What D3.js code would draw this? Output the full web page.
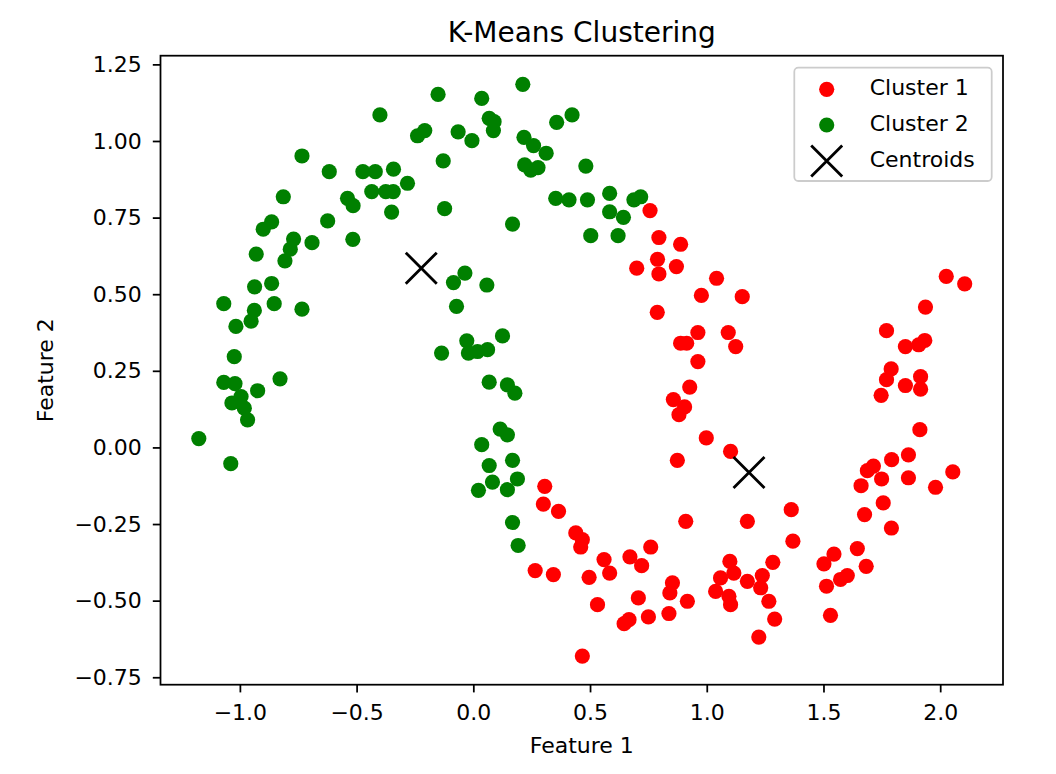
<!DOCTYPE html>
<html>
<head>
<meta charset="utf-8">
<script src="https://cdn.jsdelivr.net/npm/d3@7"></script>
<style>
  body { margin: 0; background: #fff; }
  text { font-family: "DejaVu Sans", sans-serif; fill: #000; }
</style>
</head>
<body>
<div id="chart"></div>
<script>
// Cluster 1 (red) points, [feature1, feature2]
const cluster1 = [
  [0.757, 0.773], [0.795, 0.685], [0.888, 0.663], [0.700, 0.585], [0.789, 0.614],
  [0.795, 0.566], [0.870, 0.590], [1.042, 0.552], [0.977, 0.496], [1.152, 0.492],
  [0.788, 0.441], [0.962, 0.375], [0.888, 0.340], [0.914, 0.340], [1.092, 0.375],
  [1.124, 0.329], [0.962, 0.280], [0.927, 0.197], [0.857, 0.156], [0.905, 0.132],
  [0.881, 0.107], [0.998, 0.031], [1.102, -0.013], [0.874, -0.042], [0.306, -0.127],
  [0.300, -0.185], [0.365, -0.209], [0.439, -0.279], [0.467, -0.301], [0.460, -0.325],
  [0.265, -0.402], [0.343, -0.415], [0.560, -0.366], [0.584, -0.410], [0.496, -0.424],
  [0.671, -0.357], [0.721, -0.386], [0.760, -0.325], [0.532, -0.513], [0.853, -0.442],
  [0.842, -0.475], [0.707, -0.491], [0.917, -0.502], [0.646, -0.575], [0.667, -0.562],
  [0.750, -0.553], [0.838, -0.542], [0.467, -0.681], [0.910, -0.241], [1.174, -0.241],
  [1.099, -0.372], [1.116, -0.410], [1.059, -0.426], [1.038, -0.470], [1.095, -0.486],
  [1.102, -0.513], [1.174, -0.437], [1.238, -0.418], [1.231, -0.458], [1.283, -0.375],
  [1.266, -0.502], [1.291, -0.560], [1.223, -0.619], [1.362, -0.203], [1.369, -0.306],
  [1.502, -0.380], [1.545, -0.348], [1.513, -0.453], [1.573, -0.431], [1.602, -0.418],
  [1.645, -0.330], [1.683, -0.388], [1.530, -0.548], [1.676, -0.219], [1.661, -0.125],
  [1.688, -0.076], [1.714, -0.061], [1.749, -0.103], [1.792, -0.040], [1.756, -0.181],
  [1.791, -0.263], [1.864, -0.024], [1.864, -0.099], [2.054, -0.080], [1.980, -0.130],
  [2.026, 0.558], [2.105, 0.534], [1.937, 0.458], [1.770, 0.381], [1.851, 0.329],
  [1.908, 0.335], [1.934, 0.349], [1.790, 0.256], [1.770, 0.221], [1.747, 0.170],
  [1.851, 0.202], [1.916, 0.231], [1.916, 0.190], [1.913, 0.058]
];

// Cluster 2 (green) points
const cluster2 = [
  [-0.151, 1.152], [-0.400, 1.085], [-0.239, 1.017], [-0.208, 1.034], [-0.129, 0.935],
  [-0.734, 0.951], [-0.617, 0.900], [-0.473, 0.900], [-0.420, 0.900], [-0.342, 0.908],
  [-0.282, 0.862], [-0.435, 0.835], [-0.375, 0.835], [-0.343, 0.835], [-0.350, 0.768],
  [-0.123, 0.779], [-0.814, 0.818], [-0.539, 0.813], [-0.515, 0.789], [-0.864, 0.736],
  [-0.900, 0.712], [-0.624, 0.739], [-0.770, 0.680], [-0.784, 0.647], [-0.807, 0.609],
  [-0.691, 0.668], [-0.516, 0.679], [-0.930, 0.631], [-0.937, 0.524], [-0.864, 0.535],
  [-1.069, 0.469], [-0.938, 0.447], [-0.952, 0.412], [-0.853, 0.469], [-0.734, 0.451],
  [-1.017, 0.395], [-1.024, 0.296], [-1.069, 0.212], [-1.021, 0.208], [-0.995, 0.166],
  [-1.034, 0.145], [-0.981, 0.128], [-0.967, 0.090], [-0.924, 0.185], [-0.828, 0.224],
  [-1.176, 0.029], [-1.039, -0.053], [-0.136, 0.308], [0.036, 1.139], [0.212, 1.185],
  [0.068, 1.074], [0.089, 1.063], [0.086, 1.034], [-0.065, 1.030], [-0.006, 1.001],
  [0.357, 1.061], [0.423, 1.085], [0.217, 1.012], [0.258, 0.985], [0.312, 0.960],
  [0.220, 0.922], [0.246, 0.905], [0.277, 0.913], [0.482, 0.918], [0.168, 0.729],
  [0.353, 0.813], [0.410, 0.808], [0.489, 0.808], [0.584, 0.829], [0.584, 0.769],
  [0.643, 0.751], [0.688, 0.808], [0.717, 0.818], [0.503, 0.691], [0.620, 0.691],
  [-0.036, 0.569], [-0.085, 0.538], [0.058, 0.530], [-0.072, 0.460], [-0.028, 0.348],
  [0.125, 0.364], [-0.021, 0.308], [0.018, 0.313], [0.061, 0.319], [0.068, 0.213],
  [0.146, 0.204], [0.178, 0.177], [0.115, 0.060], [0.146, 0.041], [0.036, 0.009],
  [0.168, -0.042], [0.068, -0.059], [0.189, -0.103], [0.082, -0.113], [0.146, -0.138],
  [0.022, -0.140], [0.168, -0.245], [0.192, -0.320]
];

// Centroids
const centroids = [[1.181, -0.082], [-0.223, 0.585]];

const xTicks = [-1.0, -0.5, 0.0, 0.5, 1.0, 1.5, 2.0];
const yTicks = [-0.75, -0.5, -0.25, 0.0, 0.25, 0.5, 0.75, 1.0, 1.25];
const legendLabels = ['Cluster 1', 'Cluster 2', 'Centroids'];

const width = 1056;
const height = 774;
const margin = { top: 55.7, right: 53, bottom: 89.3, left: 160.5 };
const innerW = width - margin.left - margin.right;
const innerH = height - margin.top - margin.bottom;

const fmt = (v, d) => d3.format(`.${d}f`)(v).replace('-', '\u2212');

const svg = d3.select('#chart')
  .append('svg')
  .attr('width', width)
  .attr('height', height);

const g = svg.append('g')
  .attr('transform', `translate(${margin.left}, ${margin.top})`);

// Domain with matplotlib-like 5% margins
const all = cluster1.concat(cluster2);
const xExt = d3.extent(all, d => d[0]);
const yExt = d3.extent(all, d => d[1]);
const xPad = (xExt[1] - xExt[0]) * 0.05;
const yPad = (yExt[1] - yExt[0]) * 0.05;

const x = d3.scaleLinear()
  .domain([xExt[0] - xPad, xExt[1] + xPad])
  .range([0, innerW]);

const y = d3.scaleLinear()
  .domain([yExt[0] - yPad, yExt[1] + yPad])
  .range([innerH, 0]);

const r = 7.6;

// Scatter points
g.selectAll('.c1')
  .data(cluster1)
  .enter().append('circle')
  .attr('class', 'c1')
  .attr('cx', d => x(d[0]))
  .attr('cy', d => y(d[1]))
  .attr('r', r)
  .attr('fill', 'red');

g.selectAll('.c2')
  .data(cluster2)
  .enter().append('circle')
  .attr('class', 'c2')
  .attr('cx', d => x(d[0]))
  .attr('cy', d => y(d[1]))
  .attr('r', r)
  .attr('fill', 'green');

// X marker path
const xs = 15.5;
const xMark = `M${-xs},${-xs}L${xs},${xs}M${-xs},${xs}L${xs},${-xs}`;

g.selectAll('.centroid')
  .data(centroids)
  .enter().append('path')
  .attr('class', 'centroid')
  .attr('transform', d => `translate(${x(d[0])}, ${y(d[1])})`)
  .attr('d', xMark)
  .attr('fill', 'none')
  .attr('stroke', '#000')
  .attr('stroke-width', 2.8);

// Axes
const xAxis = g.append('g')
  .attr('transform', `translate(0, ${innerH})`)
  .call(d3.axisBottom(x).tickValues(xTicks).tickFormat(d => fmt(d, 1)).tickSize(7.7).tickPadding(7.7));

const yAxis = g.append('g')
  .call(d3.axisLeft(y).tickValues(yTicks).tickFormat(d => fmt(d, 2)).tickSize(7.7).tickPadding(11));

[xAxis, yAxis].forEach(ax => {
  ax.select('.domain').remove();
  ax.selectAll('line').attr('stroke', '#000').attr('stroke-width', 1.76);
  ax.selectAll('text').style('font-size', '22px').attr('fill', '#000');
});
xAxis.selectAll('text').attr('dy', '0.9em');

// Frame
g.append('rect')
  .attr('width', innerW)
  .attr('height', innerH)
  .attr('fill', 'none')
  .attr('stroke', '#000')
  .attr('stroke-width', 1.76);

// Title and labels
svg.append('text')
  .attr('x', margin.left + innerW / 2)
  .attr('y', 41.5)
  .attr('text-anchor', 'middle')
  .style('font-size', '28px')
  .text('K-Means Clustering');

svg.append('text')
  .attr('x', margin.left + innerW / 2)
  .attr('y', 753)
  .attr('text-anchor', 'middle')
  .style('font-size', '22px')
  .text('Feature 1');

svg.append('text')
  .attr('transform', `translate(53, ${margin.top + innerH / 2}) rotate(-90)`)
  .attr('text-anchor', 'middle')
  .style('font-size', '22px')
  .text('Feature 2');

// Legend
const legend = svg.append('g')
  .attr('transform', 'translate(794.3, 67.7)');

legend.append('rect')
  .attr('width', 197.4)
  .attr('height', 113.3)
  .attr('rx', 4)
  .attr('fill', '#fff')
  .attr('fill-opacity', 0.8)
  .attr('stroke', '#cccccc')
  .attr('stroke-width', 1.76);

const legendColors = ['red', 'green', null];
const rowY = [21.6, 57.3, 93.3];

legendLabels.forEach((label, i) => {
  const row = legend.append('g')
    .attr('transform', `translate(32.4, ${rowY[i]})`);
  if (legendColors[i]) {
    row.append('circle')
      .attr('r', r)
      .attr('fill', legendColors[i]);
  } else {
    row.append('path')
      .attr('d', xMark)
      .attr('fill', 'none')
      .attr('stroke', '#000')
      .attr('stroke-width', 2.8);
  }
  row.append('text')
    .attr('x', 43)
    .attr('y', 6)
    .style('font-size', '22px')
    .text(label);
});
</script>
</body>
</html>
